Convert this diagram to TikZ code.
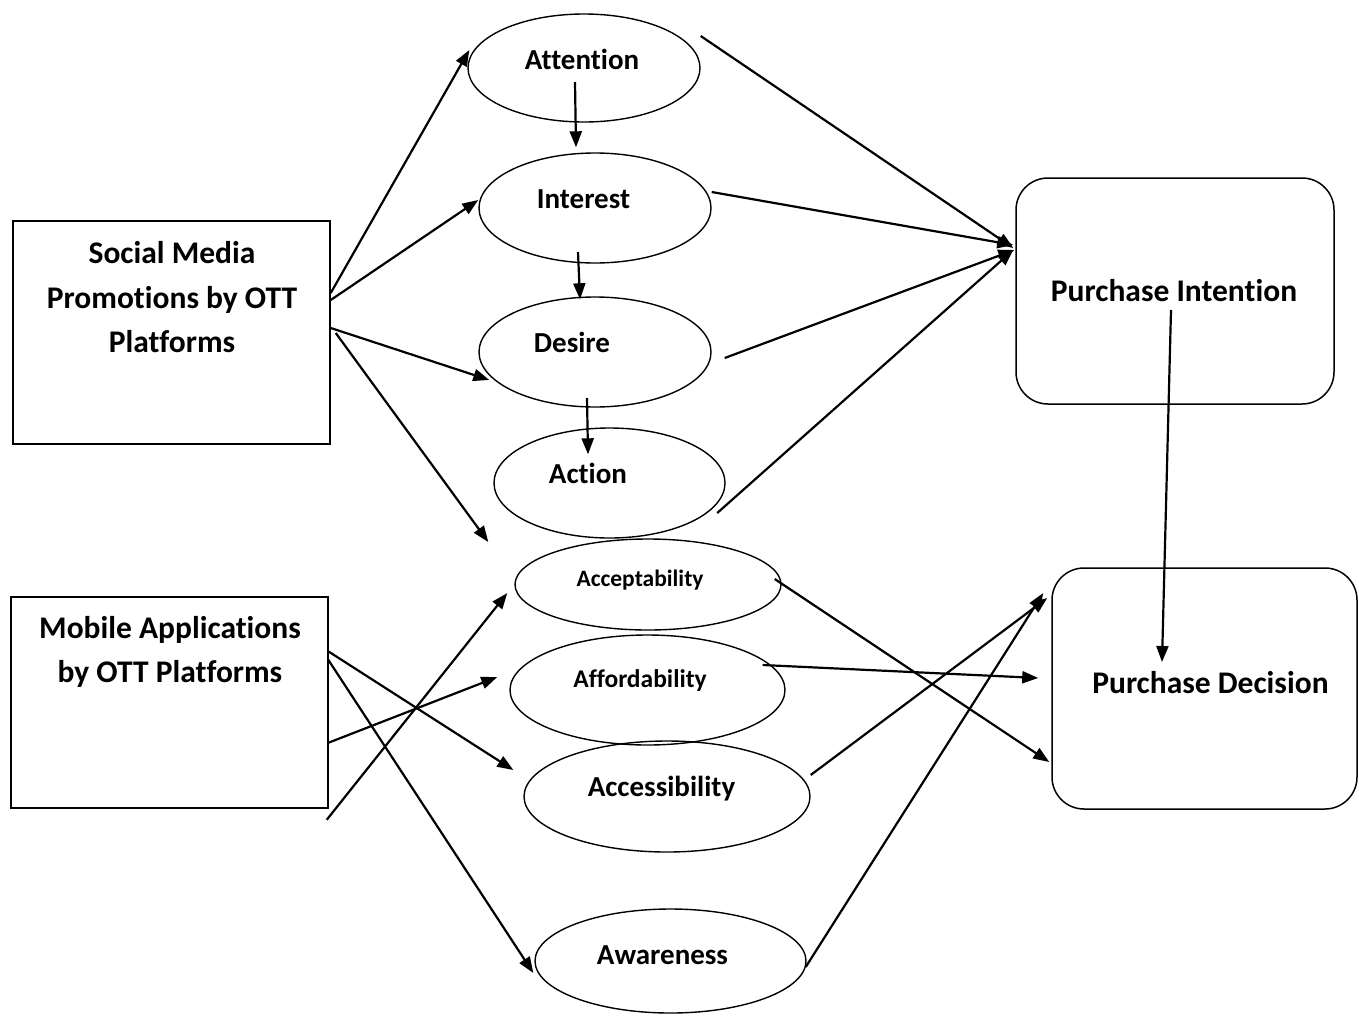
\documentclass[tikz,border=0pt]{standalone}
\usepackage{fontspec}
\setmainfont{Carlito}[Ligatures={NoCommon}]
\usetikzlibrary{shapes.geometric,arrows.meta}
\begin{document}
\begin{tikzpicture}[x=1pt,y=-1pt,
  box/.style={draw, line width=1.5pt, inner sep=0, rectangle},
  rbox/.style={draw, line width=1.5pt, inner sep=0, rectangle, rounded corners=32pt},
  ell/.style={draw, ellipse, line width=1.4pt, inner sep=0},
  blbl/.style={font=\bfseries\fontsize{31.5}{37}\selectfont, inner sep=0, anchor=base},
  elbl/.style={font=\bfseries\fontsize{29}{35}\selectfont, inner sep=0, anchor=base},
  arr/.style={-{Triangle[length=16pt,width=12pt]}, line width=2.2pt},
]
\useasboundingbox (0,0) rectangle (1359,1015);

% boxes
\node[box, minimum width=317, minimum height=223] (sm) at (171.5,332.5) {};
\node[blbl] (sm1) at (172,263) {Social Media};
\node[blbl] (sm2) at (172,308) {Promotions by OTT};
\node[blbl] (sm3) at (172,352) {Platforms};

\node[box, minimum width=317, minimum height=211] (mob) at (169.5,702.5) {};
\node[blbl] (mob1) at (170,638) {Mobile Applications};
\node[blbl] (mob2) at (170,682) {by OTT Platforms};

\node[rbox, minimum width=318, minimum height=226] (pi) at (1175,291) {};
\node[blbl] (pit) at (1174,301) {Purchase Intention};

\node[rbox, minimum width=305, minimum height=241] (pd) at (1204.5,688.5) {};
\node[blbl] (pdt) at (1210.5,693) {Purchase Decision};

% ellipses
\node[ell, minimum width=232, minimum height=108] (att) at (584,68) {};
\node[elbl] (attt) at (582,69) {Attention};
\node[ell, minimum width=232, minimum height=110] (int) at (595,208) {};
\node[elbl] (intt) at (583.5,208) {Interest};
\node[ell, minimum width=232, minimum height=110] (des) at (595,352) {};
\node[elbl] (dest) at (572,352) {Desire};
\node[ell, minimum width=231, minimum height=110] (act) at (609.5,483) {};
\node[elbl] (actt) at (588,483) {Action};

\node[ell, minimum width=266, minimum height=91] (acc) at (648,584.5) {};
\node[inner sep=0, anchor=base, font=\bfseries\fontsize{23.5}{28}\selectfont] (acct) at (640,586) {Acceptability};
\node[ell, minimum width=275, minimum height=110] (aff) at (647.5,690) {};
\node[inner sep=0, anchor=base, font=\bfseries\fontsize{25.5}{30}\selectfont] (afft) at (640,687) {Affordability};
\node[ell, minimum width=286, minimum height=111] (acs) at (667,796.5) {};
\node[elbl] (acst) at (661.5,796) {Accessibility};
\node[ell, minimum width=271, minimum height=104] (awa) at (670.5,961) {};
\node[elbl] (awat) at (662.5,964) {Awareness};

% social media arrows
\draw[arr] ([shift={(0,-39.5)}]sm.east) -- ([shift={(2,-18)}]att.west);
\draw[arr] ([shift={(0,-32.5)}]sm.east) -- ([shift={(0,-8)}]int.west);
\draw[arr] ([shift={(0,-4.5)}]sm.east) -- ([shift={(11,28)}]des.west);
\draw[arr] ([shift={(5,0.5)}]sm.east) -- ([shift={(-26,-42.5)}]acc.west);

% AIDA chain
\draw[arr] ([shift={(-9,14)}]att.center) -- ([shift={(-19,-5)}]int.north);
\draw[arr] ([shift={(-17,44)}]int.center) -- ([shift={(-15,3)}]des.north);
\draw[arr] ([shift={(-8,46)}]des.center) -- ([shift={(-21.5,27)}]act.north);

% to purchase intention
\draw[arr] ([shift={(0,-32)}]att.east) -- ([shift={(-2,-43)}]pi.west);
\draw[arr] ([shift={(0,-16)}]int.east) -- ([shift={(-2,-46)}]pi.west);
\draw[arr] ([shift={(13,6)}]des.east) -- ([shift={(-1,-41)}]pi.west);
\draw[arr] ([shift={(-8.5,30)}]act.east) -- ([shift={(-2,-41)}]pi.west);

% intention to decision
\draw[arr] ([shift={(-4,19)}]pi.center) -- ([shift={(-42.5,-26.5)}]pd.center);

% mobile arrows
\draw[arr] ([shift={(-1,-51.5)}]mob.east) -- ([shift={(-10,-26.5)}]acs.west);
\draw[arr] ([shift={(-1,-43.5)}]mob.east) -- ([shift={(-1,12)}]awa.west);
\draw[arr] ([shift={(-1,40.5)}]mob.east) -- ([shift={(-12,-13)}]aff.west);
\draw[arr] ([shift={(-2,11)}]mob.south east) -- ([shift={(-7,8.5)}]acc.west);

% to purchase decision
\draw[arr] ([shift={(-7,-5.5)}]acc.east) -- ([shift={(-2,73.5)}]pd.west);
\draw[arr] ([shift={(-23,-25)}]aff.east) -- ([shift={(-13,-10.5)}]pd.west);
\draw[arr] ([shift={(0,-21.5)}]acs.east) -- ([shift={(-4,-90.5)}]pd.west);
\draw[arr] ([shift={(-1,6)}]awa.east) -- ([shift={(-8,-95.5)}]pd.west);
\end{tikzpicture}
\end{document}
